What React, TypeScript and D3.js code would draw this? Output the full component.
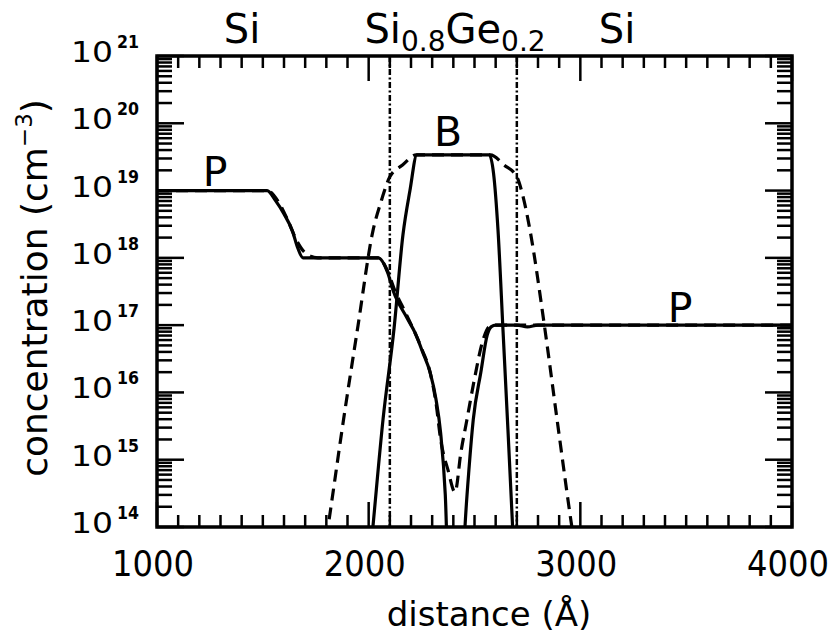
import React from "react";
import * as d3 from "d3";

// Distance axis (Å) and concentration decades (cm^-3)
const xDomain: [number, number] = [1000, 4000];
const xMajorTicks = [1000, 2000, 3000, 4000];
const yExponents = [14, 15, 16, 17, 18, 19, 20, 21];

// Si / Si0.8Ge0.2 / Si layer boundaries (Å)
const layerBounds = [2100, 2700];

// Phosphorus profile, solid curve: [distance Å, concentration cm^-3]
const pSolid: [number, number][] = [
  [1000, 1e19], [1520, 1e19], [1560, 7.1e18], [1600, 4.5e18], [1640, 2.5e18],
  [1665, 1.4e18], [1690, 1e18], [2045, 1e18], [2090, 6e17], [2115, 3.3e17],
  [2180, 1.3e17], [2220, 7.6e16], [2256, 3.9e16], [2290, 2.0e16], [2318, 7.9e15],
  [2340, 2.5e15], [2362, 3e14], [2380, 1e13], [2440, 1e13], [2455, 1e14],
  [2475, 8e14], [2494, 3.9e15], [2530, 2.0e16], [2560, 7.1e16], [2580, 9.5e16],
  [2600, 1e17], [2700, 1e17], [2750, 9.4e16], [2800, 1e17], [4000, 1e17],
];

// Phosphorus profile, dashed curve
const pDashed: [number, number][] = [
  [1000, 1e19], [1520, 1e19], [1570, 7.1e18], [1620, 3.5e18], [1660, 1.8e18],
  [1705, 1.15e18], [1760, 1e18], [2045, 1e18], [2090, 6.3e17], [2120, 3.5e17],
  [2180, 1.4e17], [2250, 4.5e16], [2290, 2.0e16], [2318, 7.0e15], [2340, 2.0e15],
  [2375, 7e14], [2408, 3.3e14], [2436, 1.3e15], [2464, 3.9e15], [2500, 1.6e16],
  [2540, 6e16], [2570, 9.5e16], [2600, 1e17], [4000, 1e17],
];

// Boron profile, solid curve
const bSolid: [number, number][] = [
  [1990, 1e13], [2020, 1e14], [2068, 4e15], [2120, 9e16], [2162, 2.2e18],
  [2195, 1e19], [2228, 3.4e19], [2570, 3.4e19], [2590, 1.8e19], [2611, 2.6e18],
  [2635, 8e16], [2658, 2.8e15], [2680, 1e14], [2695, 1e13],
];

// Boron profile, dashed curve
const bDashed: [number, number][] = [
  [1760, 1e13], [1808, 1e14], [1880, 3.7e15], [1950, 1e17], [2020, 2.5e18],
  [2060, 7.1e18], [2100, 1.6e19], [2160, 2.4e19], [2225, 3.4e19], [2575, 3.4e19],
  [2640, 2.4e19], [2700, 1.6e19], [2730, 8e18], [2762, 2.6e18], [2830, 1e17],
  [2894, 3.2e15], [2960, 1e14], [3010, 1e13],
];

const W = 839;
const H = 641;
const plot = { left: 157, right: 792, top: 56, bottom: 527 };
const FONT = "'DejaVu Sans', sans-serif";

export default function App() {
  const x = d3.scaleLinear().domain(xDomain).range([plot.left, plot.right]);
  const y = d3
    .scaleLog()
    .domain([1e14, 1e21])
    .range([plot.bottom, plot.top]);

  const line = d3
    .line<[number, number]>()
    .x((d) => x(d[0]))
    .y((d) => y(d[1]))
    .curve(d3.curveMonotoneX);

  // minor x ticks every 100 Å
  const xMinor = d3.range(xDomain[0] + 100, xDomain[1], 100).filter((v) => v % 1000 !== 0);
  // minor y ticks 2..9 in each decade
  const yMinor: number[] = [];
  for (let e = 14; e < 21; e++) {
    for (let m = 2; m <= 9; m++) yMinor.push(m * Math.pow(10, e));
  }
  const yMajor = yExponents.map((e) => Math.pow(10, e));

  const minorX = 12;
  const majorX = 25;
  const minorY = 15;
  const majorY = 27;

  return (
    <svg
      width={W}
      height={H}
      style={{ position: "absolute", left: 0, top: 0, background: "#fff" }}
      fontFamily={FONT}
    >
      <defs>
        <clipPath id="plotClip">
          <rect
            x={plot.left}
            y={plot.top}
            width={plot.right - plot.left}
            height={plot.bottom - plot.top}
          />
        </clipPath>
      </defs>

      {/* ticks */}
      <g stroke="#000" strokeWidth={2.5}>
        {xMinor.map((v) => (
          <g key={"xm" + v}>
            <line x1={x(v)} x2={x(v)} y1={plot.bottom} y2={plot.bottom - minorX} />
            <line x1={x(v)} x2={x(v)} y1={plot.top} y2={plot.top + minorX} />
          </g>
        ))}
        {xMajorTicks.map((v) => (
          <g key={"xM" + v}>
            <line x1={x(v)} x2={x(v)} y1={plot.bottom} y2={plot.bottom - majorX} />
            <line x1={x(v)} x2={x(v)} y1={plot.top} y2={plot.top + majorX} />
          </g>
        ))}
        {yMinor.map((v) => (
          <g key={"ym" + v}>
            <line x1={plot.left} x2={plot.left + minorY} y1={y(v)} y2={y(v)} />
            <line x1={plot.right} x2={plot.right - minorY} y1={y(v)} y2={y(v)} />
          </g>
        ))}
        {yMajor.map((v) => (
          <g key={"yM" + v}>
            <line x1={plot.left} x2={plot.left + majorY} y1={y(v)} y2={y(v)} />
            <line x1={plot.right} x2={plot.right - majorY} y1={y(v)} y2={y(v)} />
          </g>
        ))}
      </g>

      {/* layer boundaries */}
      <g stroke="#000" strokeWidth={2.5} strokeDasharray="6,2.5,2,2.5">
        {layerBounds.map((b) => (
          <line key={b} x1={x(b)} x2={x(b)} y1={plot.top} y2={plot.bottom} />
        ))}
      </g>

      {/* profiles */}
      <g clipPath="url(#plotClip)" fill="none" stroke="#000" strokeWidth={3.2} strokeLinejoin="round">
        <path d={line(pDashed) ?? ""} strokeDasharray="12,7" />
        <path d={line(bDashed) ?? ""} strokeDasharray="12,7" />
        <path d={line(pSolid) ?? ""} />
        <path d={line(bSolid) ?? ""} />
      </g>

      {/* frame */}
      <rect
        x={plot.left}
        y={plot.top}
        width={plot.right - plot.left}
        height={plot.bottom - plot.top}
        fill="none"
        stroke="#000"
        strokeWidth={3.5}
      />

      {/* y tick labels */}
      {yExponents.map((e) => {
        const ty = y(Math.pow(10, e));
        return (
          <g key={"yl" + e}>
            <text x={71} y={ty + 6} fontSize={28} textLength={42} lengthAdjust="spacingAndGlyphs">
              10
            </text>
            <text x={117} y={ty - 8} fontSize={18} fontWeight="bold" textLength={22} lengthAdjust="spacingAndGlyphs">
              {e}
            </text>
          </g>
        );
      })}

      {/* x tick labels */}
      {xMajorTicks.map((v) => (
        <text
          key={"xl" + v}
          x={x(v) - 4}
          y={576}
          fontSize={35}
          textAnchor="middle"
          textLength={82}
          lengthAdjust="spacingAndGlyphs"
        >
          {v}
        </text>
      ))}

      {/* axis titles */}
      <text x={489} y={626} fontSize={34} textAnchor="middle">
        distance (Å)
      </text>
      <text
        transform="translate(47,288) rotate(-90)"
        fontSize={36}
        textAnchor="middle"
      >
        concentration (cm
        <tspan fontSize={23} dy={-15}>−3</tspan>
        <tspan dy={15}>)</tspan>
      </text>

      {/* layer names */}
      <text x={242} y={43} fontSize={40} textAnchor="middle">Si</text>
      <text x={455} y={43} fontSize={40} textAnchor="middle">
        Si<tspan fontSize={28} dy={8}>0.8</tspan>
        <tspan dy={-8}>Ge</tspan>
        <tspan fontSize={28} dy={8}>0.2</tspan>
      </text>
      <text x={617} y={43} fontSize={40} textAnchor="middle">Si</text>

      {/* species labels */}
      <text x={215} y={186} fontSize={41} textAnchor="middle">P</text>
      <text x={448} y={146} fontSize={41} textAnchor="middle">B</text>
      <text x={680} y={322} fontSize={41} textAnchor="middle">P</text>
    </svg>
  );
}
